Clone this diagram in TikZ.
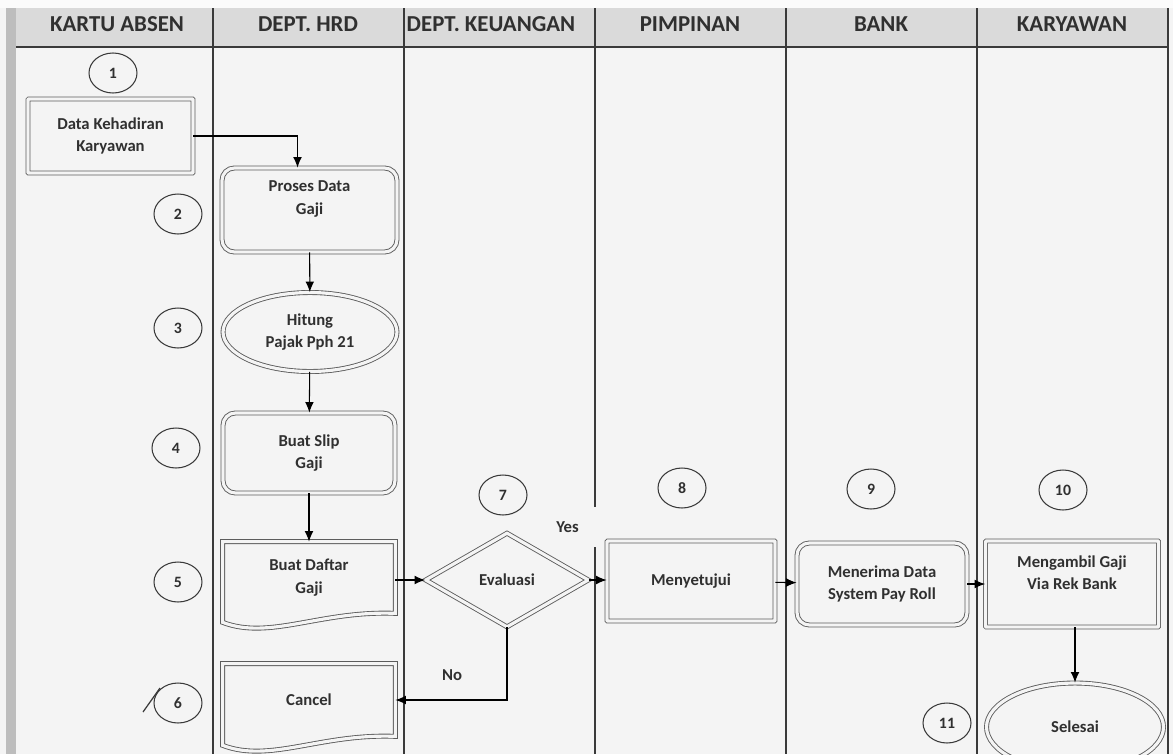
\documentclass[tikz,border=0pt]{standalone}
\usepackage{fontspec}
\setmainfont{Carlito}
\usepackage{tikz}
\usetikzlibrary{positioning,shapes.geometric,arrows.meta}

\definecolor{bgGray}{HTML}{F4F4F4}
\definecolor{headGray}{HTML}{DADADA}
\definecolor{barGray}{HTML}{BDBDBD}
\definecolor{lineGray}{HTML}{3A3A3A}
\definecolor{boxGray}{HTML}{5C5C5C}
\definecolor{txtGray}{HTML}{303030}

\tikzset{
    lane/.style={draw=lineGray, line width=0.8pt},
    lanehead/.style={font=\fontsize{13}{14}\selectfont\bfseries, text=txtGray},
    num/.style={draw=lineGray, ellipse, line width=0.6pt, minimum width=0.96cm,
        minimum height=0.8cm, inner sep=0pt, font=\fontsize{9}{10}\selectfont\bfseries, text=txtGray},
    dbl/.style={draw=boxGray, double=bgGray, double distance=1.8pt, line width=0.5pt},
    boxtext/.style={align=center, inner sep=0pt,
        font=\fontsize{9.5}{13}\selectfont\bfseries, text=txtGray},
    rectbox/.style={dbl, boxtext, shape=rectangle, rounded corners=0.4pt},
    roundbox/.style={dbl, boxtext, shape=rectangle, rounded corners=7pt},
    ovalbox/.style={dbl, boxtext, shape=ellipse},
    decision/.style={dbl, boxtext, shape=diamond},
    wavytext/.style={boxtext, shape=rectangle},
    flow/.style={draw=black, line width=0.6pt, -{Latex[length=6pt,width=5pt]}},
    answer/.style={font=\fontsize{9.5}{11}\selectfont\bfseries, text=txtGray},
}

% outline of a document box: straight top, wavy bottom
\newcommand\wavyedge[1]{%
    \draw[dbl] (#1.north west) -- (#1.north east) -- (#1.south east)
        .. controls +(-75,-3) and +(47,18) .. ([shift={(0,9)}]#1.south west) -- cycle;}

\begin{document}
\begin{tikzpicture}[x=0.02cm, y=-0.02cm]
        \fill[bgGray] (0,0) rectangle (1173,754);
        \useasboundingbox (0,0) rectangle (1173,754);
        \fill[white!60!bgGray] (0,0) rectangle (1173,8);
        \fill[barGray] (6,8) rectangle (16,754);

        % swimlane header
        \fill[headGray] (16,8) rectangle (1168,47);
        \foreach \x in {213,404,595,786,977,1168}
            \draw[lane] (\x,8) -- (\x,754);
        \draw[lineGray, line width=1.2pt] (16,47) -- (1168,47);
        \foreach \x/\n/\t in {117/hKartu/KARTU ABSEN, 308/hHrd/DEPT. HRD,
                491/hKeu/DEPT. KEUANGAN, 690/hPimp/PIMPINAN, 881/hBank/BANK, 1072/hKary/KARYAWAN}
            \node[lanehead] (\n) at (\x,24) {\t};

        % step numbers
        \node[num] (n1) at (113,73) {1};
        \node[num] (n2) at (178,214) {2};
        \node[num] (n3) at (178,328) {3};
        \node[num] (n4) at (176,448) {4};
        \node[num] (n5) at (178,582) {5};
        \node[num] (n6) at (178,703) {6};
        \node[num] (n7) at (503,495) {7};
        \node[num] (n8) at (682,488) {8};
        \node[num] (n9) at (871,489) {9};
        \node[num] (n10) at (1063,490) {10};
        \node[num] (n11) at (947,723) {11};
        \draw[lineGray, line width=0.7pt] (143,712) -- (160,688);

        % process boxes
        \node[rectbox, minimum width=3.3cm, minimum height=1.48cm] (kehadiran) at (110.5,136)
            {Data Kehadiran\\Karyawan};
        \node[roundbox, minimum width=3.5cm, minimum height=1.68cm] (proses) at (309.5,210)
            {Proses Data\\Gaji\\[1pt]};
        \node[ovalbox, minimum width=3.48cm, minimum height=1.58cm] (hitung) at (310,332)
            {Hitung\\Pajak Pph 21};
        \node[roundbox, minimum width=3.44cm, minimum height=1.6cm] (slip) at (309,453)
            {Buat Slip\\Gaji};
        \node[wavytext, minimum width=3.44cm, minimum height=1.42cm] (daftar) at (309,577.5)
            {Buat Daftar\\Gaji};
        \wavyedge{daftar}
        \node[wavytext, minimum width=3.44cm, minimum height=1.44cm] (cancel) at (309,700)
            {Cancel};
        \wavyedge{cancel}
        \node[decision, minimum width=3.26cm, minimum height=1.88cm] (evaluasi) at (507,580)
            {Evaluasi};
        \node[rectbox, minimum width=3.36cm, minimum height=1.6cm] (menyetujui) at (691,581)
            {Menyetujui};
        \node[roundbox, minimum width=3.4cm, minimum height=1.64cm] (menerima) at (882,584)
            {Menerima Data\\System Pay Roll};
        \node[rectbox, minimum width=3.46cm, minimum height=1.72cm] (mengambil) at (1072,584)
            {Mengambil Gaji\\Via Rek Bank\\\mbox{}};
        \node[ovalbox, minimum width=3.54cm, minimum height=1.76cm] (selesai) at (1075,727)
            {Selesai};

        % answers
        \node[answer, fill=bgGray, anchor=west, inner sep=0pt, text width=0.86cm,
            minimum height=0.8cm, align=left] (yes) at (556,527) {Yes};
        \node[answer] (no) at (452,675) {No};

        % flow
        \draw[flow] (kehadiran.east) -| ([xshift=-0.24cm]proses.north);
        \draw[flow] (proses) -- (hitung);
        \draw[flow] (hitung) -- (slip);
        \draw[flow] (slip) -- (daftar);
        \draw[flow] (daftar.east |- evaluasi.west) -- (evaluasi.west);
        \draw[flow] (evaluasi.east) -- (menyetujui.west |- evaluasi.east);
        \draw[flow] (menyetujui) -- (menerima);
        \draw[flow] (menerima) -- (mengambil);
        \draw[flow] (selesai.north |- mengambil.south) -- (selesai.north);
        \draw[flow] (evaluasi.south) |- (cancel.east);
    \end{tikzpicture}
\end{document}
